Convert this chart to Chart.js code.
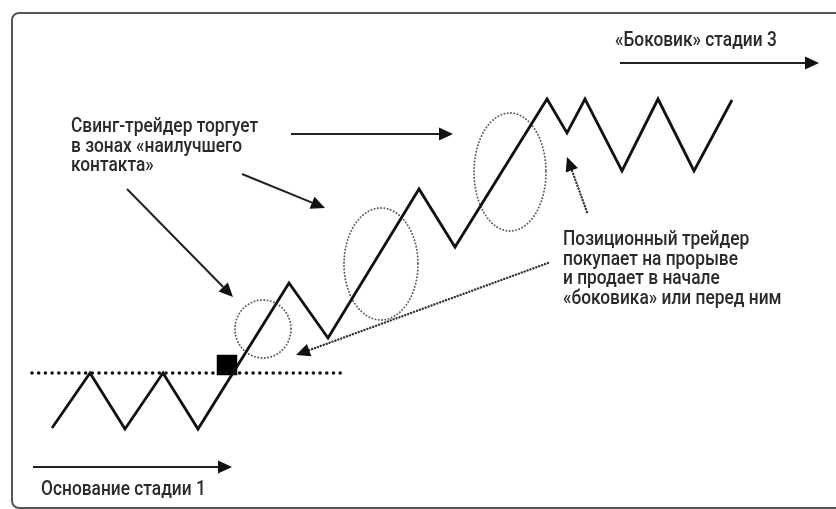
<!DOCTYPE html>
<html>
<head>
<meta charset="utf-8">
<script src="https://cdn.jsdelivr.net/npm/chart.js@4"></script>
<style>
  body { margin:0; background:#fff; }
  #wrap { position:relative; width:836px; height:509px; overflow:hidden; background:#fff; }
  #frame { position:absolute; left:11px; top:12px; width:900px; height:493px; border:2px solid #555; border-radius:8px; }
  canvas { position:absolute; left:0; top:0; }
</style>
</head>
<body>
<div id="wrap">
  <div id="frame"></div>
  <canvas id="c" width="836" height="509"></canvas>
</div>
<script>
// price path (time on x, price on y)
const timeX = [52, 90, 125, 163, 198, 289, 328, 419, 455, 547, 567, 585, 622, 658, 694, 732];
const price = [81, 136, 80, 136, 80, 226, 171, 320, 262, 410, 376, 410, 338, 410, 338, 409];

// breakout level and entry point
const levelX = [32, 345];
const levelPrice = [136, 136];
const entryX = [227];
const entryPrice = [144];

// "best contact" zones
const zoneX = [263, 381, 510];
const zonePrice = [180, 245, 337];
const zoneHalfW = [28, 37, 36];
const zoneHalfH = [29, 56, 59];

// arrows
const arrowFromX = [620, 33, 291, 242, 127, 548, 587];
const arrowFromP = [446, 42, 375, 335, 320, 246, 297];
const arrowToX = [819, 232, 453, 325, 233, 296, 567];
const arrowToP = [446, 42, 375, 301, 212, 154, 352];
const arrowDotted = [false, false, false, false, false, true, true];

// texts
const labelLines = [
  ["«Боковик» стадии 3"],
  ["Свинг-трейдер торгует", "в зонах «наилучшего", "контакта»"],
  ["Позиционный трейдер", "покупает на прорыве", "и продает в начале", "«боковика» или перед ним"],
  ["Основание стадии 1"]
];
const labelX = [615, 71, 563, 41];
const labelP = [463, 377, 264, 14];

const pt = (arrX, arrY) => arrX.map((x, i) => ({ x, y: arrY[i] }));

const drawings = {
  id: "drawings",
  beforeDatasetsDraw(chart){
    const { ctx, scales:{ x, y } } = chart;
    ctx.save();
    ctx.strokeStyle = "#5a5a5a";
    ctx.lineWidth = 1.9;
    ctx.lineCap = "round";
    ctx.setLineDash([0.1, 3.2]);
    zoneX.forEach((zx, i) => {
      const cx = x.getPixelForValue(zx), cy = y.getPixelForValue(zonePrice[i]);
      const rx = x.getPixelForValue(zx + zoneHalfW[i]) - cx;
      const ry = cy - y.getPixelForValue(zonePrice[i] + zoneHalfH[i]);
      ctx.beginPath();
      ctx.ellipse(cx, cy, rx, ry, 0, 0, Math.PI * 2);
      ctx.stroke();
    });
    ctx.restore();
  },
  afterDatasetsDraw(chart){
    const { ctx, scales:{ x, y } } = chart;
    ctx.save();
    arrowFromX.forEach((fx, i) => {
      const x1 = x.getPixelForValue(fx), y1 = y.getPixelForValue(arrowFromP[i]);
      const x2 = x.getPixelForValue(arrowToX[i]), y2 = y.getPixelForValue(arrowToP[i]);
      const len = Math.hypot(x2 - x1, y2 - y1);
      const ux = (x2 - x1) / len, uy = (y2 - y1) / len;
      const head = 14, half = 6.5;
      const bx = x2 - ux * head, by = y2 - uy * head;
      ctx.beginPath();
      ctx.moveTo(x1, y1);
      ctx.lineTo(bx, by);
      if(arrowDotted[i]){
        ctx.strokeStyle = "#333";
        ctx.lineWidth = 2.4;
        ctx.lineCap = "round";
        ctx.setLineDash([0.1, 3]);
      } else {
        ctx.strokeStyle = "#222";
        ctx.lineWidth = 2;
        ctx.lineCap = "butt";
        ctx.setLineDash([]);
      }
      ctx.stroke();
      ctx.setLineDash([]);
      ctx.fillStyle = "#111";
      ctx.beginPath();
      ctx.moveTo(x2, y2);
      ctx.lineTo(bx - uy * half, by + ux * half);
      ctx.lineTo(bx + uy * half, by - ux * half);
      ctx.closePath();
      ctx.fill();
    });

    ctx.fillStyle = "#2a2a2a";
    ctx.font = "500 19.5px Roboto, 'Liberation Sans', Arial, sans-serif";
    ctx.textBaseline = "alphabetic";
    const sx = 187 / ctx.measureText(labelLines[1][0]).width;
    labelLines.forEach((lines, i) => {
      const lx = x.getPixelForValue(labelX[i]);
      const ly = y.getPixelForValue(labelP[i]);
      lines.forEach((t, j) => {
        ctx.save();
        ctx.translate(lx, ly + j * 19.5);
        ctx.scale(sx, 1);
        ctx.fillText(t, 0, 0);
        ctx.restore();
      });
    });
    ctx.restore();
  }
};

new Chart(document.getElementById("c"), {
  type: "scatter",
  data: {
    datasets: [
      {
        data: pt(timeX, price),
        showLine: true,
        borderColor: "#111",
        borderWidth: 2.8,
        pointRadius: 0,
        tension: 0
      },
      {
        data: pt(levelX, levelPrice),
        showLine: true,
        borderColor: "#111",
        borderWidth: 3.6,
        borderDash: [0, 6.7],
        borderCapStyle: "round",
        pointRadius: 0
      },
      {
        data: pt(entryX, entryPrice),
        pointStyle: "rect",
        pointRadius: 14.5,
        backgroundColor: "#000",
        borderColor: "#000",
        borderWidth: 0
      }
    ]
  },
  options: {
    responsive: false,
    animation: false,
    events: [],
    layout: { padding: 0, autoPadding: false },
    plugins: { legend: { display:false }, tooltip: { enabled:false } },
    scales: {
      x: { type:"linear", min:0, max:836, display:false },
      y: { type:"linear", min:0, max:509, display:false }
    }
  },
  plugins: [drawings]
});
</script>
</body>
</html>
